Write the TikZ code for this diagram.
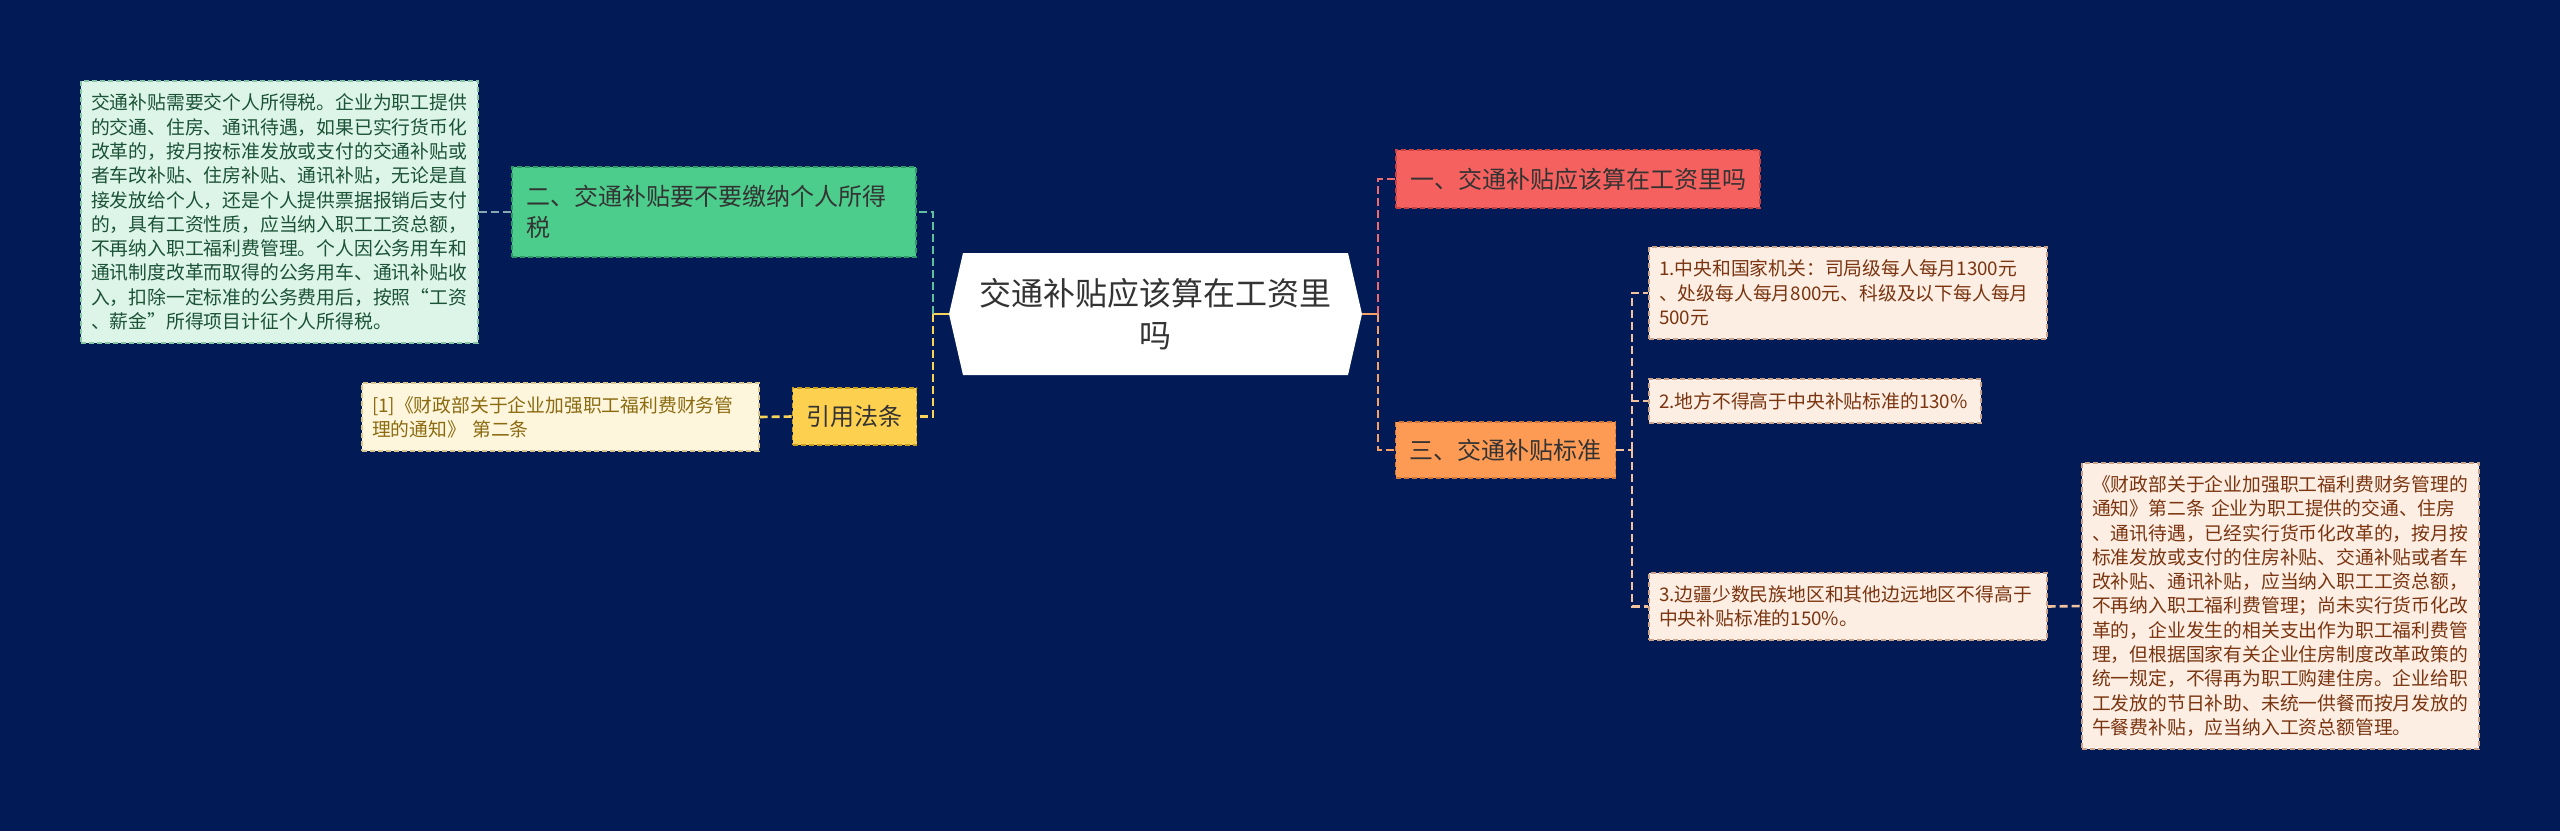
\documentclass[tikz,border=0pt]{standalone}
\usepackage{fontspec}
\newfontfamily\cjk{Noto Sans CJK SC}
\usepackage{xcolor}
\usepackage{tikz}
\usetikzlibrary{arrows.meta,positioning}

\definecolor{bgnavy}{HTML}{021B57}
\definecolor{greenfill}{HTML}{4CCD8C}
\definecolor{greenline}{HTML}{2E9A68}
\definecolor{mintfill}{HTML}{DCF5E8}
\definecolor{mintline}{HTML}{86C4A4}
\definecolor{minttext}{HTML}{1C5236}
\definecolor{yellowfill}{HTML}{FDD04F}
\definecolor{yellowline}{HTML}{C99E20}
\definecolor{creamfill}{HTML}{FDF6DC}
\definecolor{creamline}{HTML}{D8C78E}
\definecolor{creamtext}{HTML}{8B6A10}
\definecolor{redfill}{HTML}{F4615F}
\definecolor{redline}{HTML}{C94242}
\definecolor{orangefill}{HTML}{FD9B55}
\definecolor{orangeline}{HTML}{D0783A}
\definecolor{peachfill}{HTML}{FDEEE4}
\definecolor{peachline}{HTML}{C9A48A}
\definecolor{peachtext}{HTML}{7A3510}
\definecolor{linkteal}{HTML}{5FC0A0}
\definecolor{linkgray}{HTML}{8AA6B0}
\definecolor{linkyellow}{HTML}{F8D558}
\definecolor{linkred}{HTML}{EF6B6B}
\definecolor{linkorange}{HTML}{F7A168}
\definecolor{linkpeach}{HTML}{F3C29F}

\begin{document}
\begin{tikzpicture}[x=0.5pt, y=-0.5pt,
  topic/.style={font=\cjk\fontsize{12}{15.5}\selectfont, align=left, inner xsep=7pt,
    dash pattern=on 2.5pt off 1.5pt, line width=0.7pt},
  leaf/.style={font=\cjk\fontsize{9.4}{12.15}\selectfont, align=left, inner xsep=5pt,
    dash pattern=on 2.5pt off 1.5pt, line width=0.6pt},
  link/.style={line width=1.3pt, dash pattern=on 4pt off 2pt}]

  % canvas
  \fill[bgnavy] (0,0) rectangle (2560,831);
  \useasboundingbox (0,0) rectangle (2560,831);

  % central topic
  \node[font=\cjk\fontsize{16}{21}\selectfont, align=center, text=black!80,
    minimum width=206.5pt, minimum height=61pt, text width=180pt, fill=bgnavy,
    path picture={\fill[white] (path picture bounding box.west)
      -- ([xshift=7pt]path picture bounding box.north west)
      -- ([xshift=-7pt]path picture bounding box.north east)
      -- (path picture bounding box.east)
      -- ([xshift=-7pt]path picture bounding box.south east)
      -- ([xshift=7pt]path picture bounding box.south west) -- cycle;}]
    (root) at (1155.5,314) {交通补贴应该算在工资里\\吗};

  % left branch
  \node[topic, fill=greenfill, draw=greenline, text=black!80, text width=188pt,
    minimum height=45pt] (tax) at (714,212) {二、交通补贴要不要缴纳个人所得\\税};
  \node[leaf, fill=mintfill, draw=mintline, text=minttext, text width=188.5pt,
    minimum height=131pt] (note) at (279.5,212)
    {交通补贴需要交个人所得税。企业为职工提供\\
     的交通、住房、通讯待遇，如果已实行货币化\\
     改革的，按月按标准发放或支付的交通补贴或\\
     者车改补贴、住房补贴、通讯补贴，无论是直\\
     接发放给个人，还是个人提供票据报销后支付\\
     的，具有工资性质，应当纳入职工工资总额，\\
     不再纳入职工福利费管理。个人因公务用车和\\
     通讯制度改革而取得的公务用车、通讯补贴收\\
     入，扣除一定标准的公务费用后，按照“工资\\
     、薪金”所得项目计征个人所得税。};
  \node[topic, align=center, fill=yellowfill, draw=yellowline, text=black!80,
    minimum width=61.5pt, minimum height=28.5pt] (cite) at (854.5,416.5) {引用法条};
  \node[leaf, fill=creamfill, draw=creamline, text=creamtext, text width=188.5pt,
    minimum height=34pt] (ref) at (560.5,417)
    {[1]《财政部关于企业加强职工福利费财务管\\理的通知》 第二条};

  % right branch
  \node[topic, fill=redfill, draw=redline, text=black!80,
    minimum width=182pt, minimum height=29pt] (q1) at (1578,179) {一、交通补贴应该算在工资里吗};
  \node[topic, fill=orangefill, draw=orangeline, text=black!80,
    minimum width=109.5pt, minimum height=28pt] (std) at (1505.5,450) {三、交通补贴标准};
  \node[leaf, fill=peachfill, draw=peachline, text=peachtext, text width=189pt,
    minimum height=46pt] (s1) at (1848,293)
    {1.中央和国家机关：司局级每人每月1300元\\、处级每人每月800元、科级及以下每人每月\\500元};
  \node[leaf, fill=peachfill, draw=peachline, text=peachtext, text width=156pt,
    minimum height=22pt] (s2) at (1815,401) {2.地方不得高于中央补贴标准的130\%};
  \node[leaf, fill=peachfill, draw=peachline, text=peachtext, text width=189pt,
    minimum height=33.5pt] (s3) at (1848,606.5)
    {3.边疆少数民族地区和其他边远地区不得高于\\中央补贴标准的150\%。};
  \node[leaf, fill=peachfill, draw=peachline, text=peachtext, text width=188.5pt,
    minimum height=143pt] (law) at (2280.5,606)
    {《财政部关于企业加强职工福利费财务管理的\\
     通知》第二条 企业为职工提供的交通、住房\\
     、通讯待遇，已经实行货币化改革的，按月按\\
     标准发放或支付的住房补贴、交通补贴或者车\\
     改补贴、通讯补贴，应当纳入职工工资总额，\\
     不再纳入职工福利费管理；尚未实行货币化改\\
     革的，企业发生的相关支出作为职工福利费管\\
     理，但根据国家有关企业住房制度改革政策的\\
     统一规定，不得再为职工购建住房。企业给职\\
     工发放的节日补助、未统一供餐而按月发放的\\
     午餐费补贴，应当纳入工资总额管理。};

  % connectors
  \coordinate (lbus) at (933,314);
  \coordinate (rbus) at (1378,314);
  \coordinate (sbus) at (1632,450);
  \draw[link, linkyellow, solid] (root.west) -- (lbus);
  \draw[link, linkteal] (lbus) |- (tax.east);
  \draw[link, linkyellow] (lbus) |- (cite.east);
  \draw[link, linkgray] (note.east) -- (tax.west);
  \draw[link, linkyellow] (ref.east) -- (cite.west);
  \draw[link, linkorange, solid] (root.east) -- (rbus);
  \draw[link, linkred] (rbus) |- (q1.west);
  \draw[link, linkorange] (rbus) |- (std.west);
  \draw[link, linkpeach] (std.east) -- (sbus);
  \foreach \n in {s1,s2,s3}
    \draw[link, linkpeach] (sbus) |- (\n.west);
  \draw[link, linkpeach] (s3.east) -- (law.west);
\end{tikzpicture}
\end{document}
